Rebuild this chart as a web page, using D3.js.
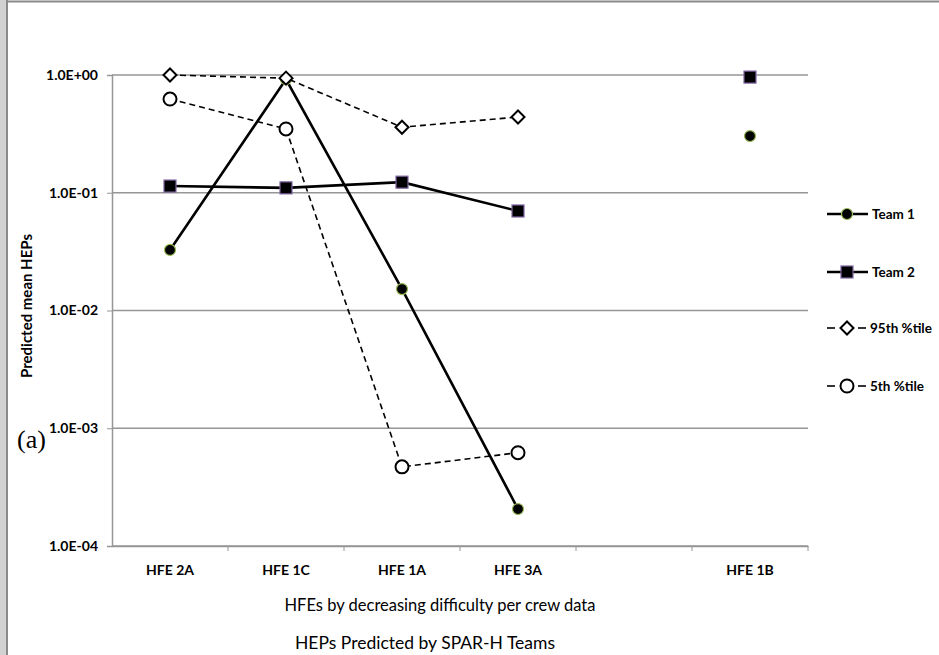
<!DOCTYPE html>
<html>
<head>
<meta charset="utf-8">
<script src="https://cdn.jsdelivr.net/npm/d3@7"></script>
<style>
  body { margin: 0; background: #fff; }
  svg { display: block; }
</style>
</head>
<body>
<script>
// values
let categories = ["HFE 2A", "HFE 1C", "HFE 1A", "HFE 3A", "", "HFE 1B"];
let team1 = [0.0327, 0.92, 0.0152, 0.000206, null, 0.303];
let team2 = [0.114, 0.11, 0.123, 0.070, null, 0.96];
let pct95 = [1.0, 0.94, 0.36, 0.44, null, null];
let pct5 = [0.625, 0.348, 0.00047, 0.00062, null, null];
let yTicks = [1, 0.1, 0.01, 0.001, 0.0001];
let seriesNames = ["Team 1", "Team 2", "95th %tile", "5th %tile"];

let canvasW = 939;
let canvasH = 655;
let plotL = 112, plotR = 808, plotT = 75, plotB = 546;
let font = "Lato, 'Open Sans', sans-serif";
let gridCol = "#969696";

let svg = d3.select("body")
  .append("svg")
    .attr("width", canvasW)
    .attr("height", canvasH);

// page frame bits (grey strip on left, border lines)
svg.append("rect").attr("x", 0).attr("y", 0).attr("width", 6).attr("height", canvasH).attr("fill", "#d2d2d2");
svg.append("line").attr("x1", 7).attr("x2", 7).attr("y1", 0).attr("y2", canvasH)
  .attr("stroke", "#8a8a8a").attr("stroke-width", 2);
svg.append("line").attr("x1", 6).attr("x2", canvasW).attr("y1", 1.5).attr("y2", 1.5)
  .attr("stroke", "#8a8a8a").attr("stroke-width", 2);

let xScale = d3.scaleBand()
  .domain(categories)
  .range([plotL, plotR]);

let yScale = d3.scaleLog()
  .domain([0.0001, 1])
  .range([plotB, plotT]);

let cx = i => xScale(categories[i]) + xScale.bandwidth() / 2;

// gridlines
svg.append("g").selectAll("line")
  .data(yTicks)
  .enter()
  .append("line")
    .attr("x1", plotL).attr("x2", plotR)
    .attr("y1", d => yScale(d)).attr("y2", d => yScale(d))
    .attr("stroke", gridCol)
    .attr("stroke-width", 1.5);

// y axis
const yAxis = svg.append("g")
  .attr("transform", "translate(" + plotL + ",0)");
d3.axisLeft(yScale)
  .tickValues(yTicks)
  .tickSize(5)
  .tickPadding(9)
  .tickFormat(d => {
    let e = Math.round(Math.log10(d));
    return "1.0E" + (e < 0 ? "-" : "+") + String(Math.abs(e)).padStart(2, "0");
  })(yAxis);
yAxis.select(".domain").attr("stroke", gridCol).attr("stroke-width", 1.5);
yAxis.selectAll(".tick line").attr("stroke", gridCol);
yAxis.selectAll("text")
  .attr("font-family", font)
  .attr("font-weight", "bold")
  .attr("font-size", "14px")
  .attr("fill", "#000");

// x axis (labels at band centres, ticks at band edges)
const xAxis = svg.append("g")
  .attr("transform", "translate(0," + plotB + ")");
d3.axisBottom(xScale)
  .tickSize(0)
  .tickPadding(19)(xAxis);
xAxis.select(".domain").attr("stroke", gridCol).attr("stroke-width", 1.5);
xAxis.selectAll("text")
  .attr("font-family", font)
  .attr("font-weight", "bold")
  .attr("font-size", "14px")
  .attr("fill", "#000");
svg.append("g").selectAll("line")
  .data(categories)
  .enter()
  .append("line")
    .attr("x1", d => xScale(d) + xScale.bandwidth())
    .attr("x2", d => xScale(d) + xScale.bandwidth())
    .attr("y1", plotB).attr("y2", plotB + 5)
    .attr("stroke", gridCol);

// series lines
let line = d3.line()
  .defined(d => d.v != null)
  .x(d => cx(d.i))
  .y(d => yScale(d.v));

let pts = arr => arr.map((v, i) => ({ v: v, i: i }));

function drawLine(arr, dashed) {
  svg.append("path")
    .datum(pts(arr))
    .attr("fill", "none")
    .attr("stroke", "#000")
    .attr("stroke-width", dashed ? 1.6 : 2.6)
    .attr("stroke-dasharray", dashed ? "6,4" : null)
    .attr("d", line);
}

// markers
function circleMark(g, x, y) {
  g.append("circle").attr("cx", x).attr("cy", y).attr("r", 5.5)
    .attr("fill", "#000").attr("stroke", "#9bbb59").attr("stroke-width", 1.2);
}
function squareMark(g, x, y) {
  g.append("rect").attr("x", x - 6).attr("y", y - 6).attr("width", 12).attr("height", 12)
    .attr("fill", "#000").attr("stroke", "#8064a2").attr("stroke-width", 1.2);
}
function diamondMark(g, x, y) {
  g.append("path")
    .attr("d", "M" + x + "," + (y - 6.5) + "L" + (x + 6.5) + "," + y + "L" + x + "," + (y + 6.5) + "L" + (x - 6.5) + "," + y + "Z")
    .attr("fill", "#fff").attr("stroke", "#000").attr("stroke-width", 2);
}
function ringMark(g, x, y) {
  g.append("circle").attr("cx", x).attr("cy", y).attr("r", 6.5)
    .attr("fill", "#fff").attr("stroke", "#000").attr("stroke-width", 2);
}

function drawMarks(arr, fn) {
  let g = svg.append("g");
  pts(arr).filter(d => d.v != null).forEach(d => fn(g, cx(d.i), yScale(d.v)));
}

drawLine(team1, false);
drawMarks(team1, circleMark);
drawLine(team2, false);
drawMarks(team2, squareMark);
drawLine(pct95, true);
drawMarks(pct95, diamondMark);
drawLine(pct5, true);
drawMarks(pct5, ringMark);

// legend
let legendY = [214, 272, 328, 386];
let legendFns = [circleMark, squareMark, diamondMark, ringMark];
let lg = svg.append("g");
seriesNames.forEach((name, k) => {
  let y = legendY[k];
  if (k < 2) {
    lg.append("line").attr("x1", 827).attr("x2", 868).attr("y1", y).attr("y2", y)
      .attr("stroke", "#000").attr("stroke-width", 2.6);
  } else {
    lg.append("line").attr("x1", 827).attr("x2", 835).attr("y1", y).attr("y2", y)
      .attr("stroke", "#000").attr("stroke-width", 1.6);
    lg.append("line").attr("x1", 858).attr("x2", 866).attr("y1", y).attr("y2", y)
      .attr("stroke", "#000").attr("stroke-width", 1.6);
  }
  legendFns[k](lg, 847, y);
  lg.append("text")
    .attr("x", k < 2 ? 872 : 870)
    .attr("y", y)
    .attr("dy", "0.35em")
    .attr("font-family", font)
    .attr("font-weight", "bold")
    .attr("font-size", "13.5px")
    .attr("fill", "#000")
    .text(name);
});

// axis titles
svg.append("text")
  .attr("text-anchor", "middle")
  .attr("font-family", font)
  .attr("font-weight", "bold")
  .attr("font-size", "15px")
  .attr("fill", "#000")
  .attr("transform", "translate(32,306) rotate(-90)")
  .text("Predicted mean HEPs");

svg.append("text")
  .attr("x", 440)
  .attr("y", 611)
  .attr("text-anchor", "middle")
  .attr("font-family", font)
  .attr("font-size", "16.5px")
  .attr("fill", "#000")
  .text("HFEs by decreasing difficulty per crew data");

svg.append("text")
  .attr("x", 425)
  .attr("y", 649)
  .attr("text-anchor", "middle")
  .attr("font-family", font)
  .attr("font-size", "17.5px")
  .attr("fill", "#000")
  .text("HEPs Predicted by SPAR-H Teams");

svg.append("text")
  .attr("x", 17)
  .attr("y", 448)
  .attr("font-family", "'Liberation Serif', 'DejaVu Serif', serif")
  .attr("font-size", "26px")
  .attr("fill", "#000")
  .text("(a)");
</script>
</body>
</html>
